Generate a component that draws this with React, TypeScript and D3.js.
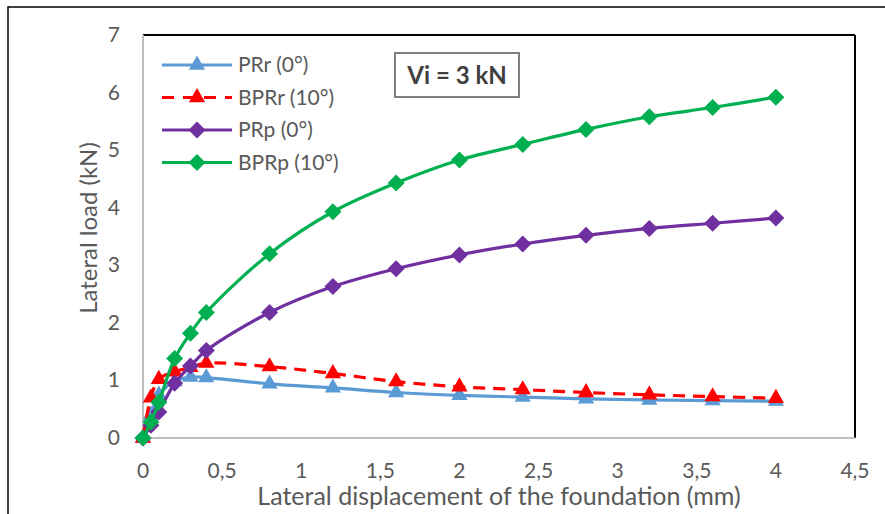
import { useEffect, useRef } from 'react';
import * as d3 from 'd3';

const displacement = [0, 0.05, 0.1, 0.2, 0.3, 0.4, 0.8, 1.2, 1.6, 2, 2.4, 2.8, 3.2, 3.6, 4];
const prR = [0, 0.4, 0.75, 0.98, 1.06, 1.05, 0.94, 0.87, 0.79, 0.74, 0.71, 0.68, 0.66, 0.65, 0.64];
const bprR = [0, 0.7, 1.02, 1.15, 1.23, 1.3, 1.24, 1.12, 0.98, 0.89, 0.84, 0.79, 0.75, 0.72, 0.69];
const prP = [0, 0.22, 0.45, 0.95, 1.25, 1.52, 2.18, 2.63, 2.94, 3.18, 3.37, 3.52, 3.64, 3.73, 3.82];
const bprP = [0, 0.28, 0.62, 1.38, 1.82, 2.18, 3.2, 3.93, 4.43, 4.83, 5.1, 5.36, 5.58, 5.74, 5.92];

const xTicks = [0, 0.5, 1, 1.5, 2, 2.5, 3, 3.5, 4, 4.5];
const yTicks = [0, 1, 2, 3, 4, 5, 6, 7];

const seriesNames = ['PRr (0°)', 'BPRr (10°)', 'PRp (0°)', 'BPRp (10°)'];
const seriesColors = ['#5B9BD5', '#FF0000', '#7030A0', '#00B050'];
const seriesMarkers = ['triangle', 'triangle', 'diamond', 'diamond'];
const seriesDashed = [false, true, false, false];

const FONT = 'Lato, "Open Sans", sans-serif';

export default function App() {
  const svgRef = useRef<SVGSVGElement>(null);
  const width = 885;
  const height = 514;

  useEffect(() => {
    if (!svgRef.current) return;
    const svg = d3.select(svgRef.current);
    svg.selectAll('*').remove();

    const left = 143, right = 855, top = 35, bottom = 438;

    const x = d3.scaleLinear().domain([0, 4.5]).range([left, right]);
    const y = d3.scaleLinear().domain([0, 7]).range([bottom, top]);

    svg.append('rect').attr('width', width).attr('height', height).attr('fill', '#fff');

    // outer chart border
    svg.append('rect')
      .attr('x', 8).attr('y', 7)
      .attr('width', 900).attr('height', 530)
      .attr('fill', 'none')
      .attr('stroke', '#000')
      .attr('stroke-width', 1.5);

    // plot frame: black top/right, grey axes
    svg.append('line').attr('x1', left).attr('x2', right).attr('y1', top).attr('y2', top)
      .attr('stroke', '#000').attr('stroke-width', 2);
    svg.append('line').attr('x1', right).attr('x2', right).attr('y1', top).attr('y2', bottom)
      .attr('stroke', '#000').attr('stroke-width', 2);
    svg.append('line').attr('x1', left).attr('x2', left).attr('y1', top).attr('y2', bottom)
      .attr('stroke', '#BFBFBF').attr('stroke-width', 2);
    svg.append('line').attr('x1', left).attr('x2', right).attr('y1', bottom).attr('y2', bottom)
      .attr('stroke', '#BFBFBF').attr('stroke-width', 2);

    // tick labels
    svg.selectAll('.ytick')
      .data(yTicks)
      .enter()
      .append('text')
      .attr('x', left - 23)
      .attr('y', d => y(d) + 7)
      .attr('text-anchor', 'end')
      .style('font-family', FONT)
      .style('font-size', '21px')
      .style('fill', '#595959')
      .text(d => String(d));

    svg.selectAll('.xtick')
      .data(xTicks)
      .enter()
      .append('text')
      .attr('x', d => x(d))
      .attr('y', bottom + 40)
      .attr('text-anchor', 'middle')
      .style('font-family', FONT)
      .style('font-size', '21px')
      .style('fill', '#595959')
      .text(d => String(d).replace('.', ','));

    // axis titles
    svg.append('text')
      .attr('transform', `translate(97,228) rotate(-90)`)
      .attr('text-anchor', 'middle')
      .style('font-family', FONT)
      .style('font-size', '24px')
      .style('fill', '#595959')
      .text('Lateral load (kN)');

    svg.append('text')
      .attr('x', 499)
      .attr('y', 505)
      .attr('text-anchor', 'middle')
      .style('font-family', FONT)
      .style('font-size', '25px')
      .style('fill', '#595959')
      .text('Lateral displacement of the foundation (mm)');

    const triangle = d3.symbol().type(d3.symbolTriangle).size(115)();
    const diamond = 'M0,-8.5L8.5,0L0,8.5L-8.5,0Z';

    const allSeries = [prR, bprR, prP, bprP];

    allSeries.forEach((vals, i) => {
      const pts = displacement.map((d, j) => [d, vals[j]] as [number, number]);
      const line = d3.line<[number, number]>()
        .x(d => x(d[0]))
        .y(d => y(d[1]))
        .curve(d3.curveCatmullRom.alpha(0.5));

      svg.append('path')
        .attr('d', line(pts) || '')
        .attr('fill', 'none')
        .attr('stroke', seriesColors[i])
        .attr('stroke-width', 3.2)
        .attr('stroke-dasharray', seriesDashed[i] ? '12,8' : null);

      svg.selectAll(`.m${i}`)
        .data(pts)
        .enter()
        .append('path')
        .attr('d', seriesMarkers[i] === 'triangle' ? triangle : diamond)
        .attr('transform', d => `translate(${x(d[0])},${y(d[1])})`)
        .attr('fill', seriesColors[i]);
    });

    // legend
    const legend = svg.append('g');
    seriesNames.forEach((name, i) => {
      const ly = 65 + i * 32.5;
      legend.append('line')
        .attr('x1', 162).attr('x2', 232)
        .attr('y1', ly).attr('y2', ly)
        .attr('stroke', seriesColors[i])
        .attr('stroke-width', 3.2)
        .attr('stroke-dasharray', seriesDashed[i] ? '12,9' : null);
      legend.append('path')
        .attr('d', seriesMarkers[i] === 'triangle' ? triangle : diamond)
        .attr('transform', `translate(197,${ly})`)
        .attr('fill', seriesColors[i]);
      legend.append('text')
        .attr('x', 238)
        .attr('y', ly + 7)
        .style('font-family', FONT)
        .style('font-size', '21px')
        .style('fill', '#595959')
        .text(name);
    });

    // annotation box
    svg.append('rect')
      .attr('x', 395).attr('y', 53)
      .attr('width', 124).attr('height', 44)
      .attr('fill', '#fff')
      .attr('stroke', '#808080')
      .attr('stroke-width', 2);
    svg.append('text')
      .attr('x', 457).attr('y', 84)
      .attr('text-anchor', 'middle')
      .style('font-family', FONT)
      .style('font-size', '24px')
      .style('font-weight', 'bold')
      .style('fill', '#404040')
      .text('Vi = 3 kN');
  }, []);

  return (
    <svg
      ref={svgRef}
      width={width}
      height={height}
      style={{ position: 'absolute', left: 0, top: 0 }}
    />
  );
}
